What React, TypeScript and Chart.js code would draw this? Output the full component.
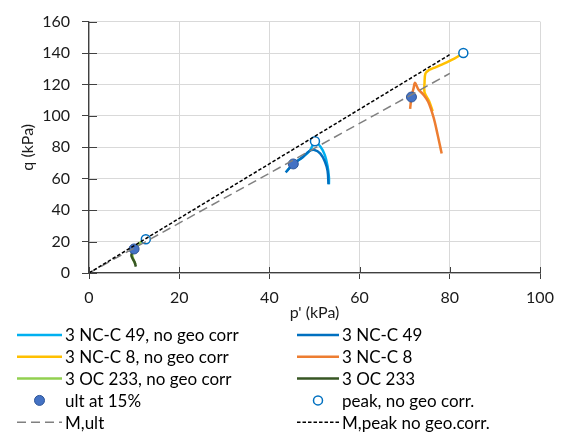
import React, { useEffect, useRef } from "react";
import { Chart, registerables } from "chart.js";

Chart.register(...registerables);

type Pt = [number, number];

const FONT = "Lato, 'Liberation Sans', sans-serif";
const AXIS = "#404040";
const GRID = "#d9d9d9";

// Axis ticks (kPa)
const xTickValues = [0, 20, 40, 60, 80, 100];
const yTickValues = [0, 20, 40, 60, 80, 100, 120, 140, 160];

// Stress paths: [p', q] in kPa
const nc49NoGeo: Pt[] = [
  [43.8, 64.7], [45.3, 69.4], [47.5, 74], [49, 78], [50.1, 83.5],
  [51.3, 80.5], [52.3, 75], [52.9, 68], [53.2, 61], [53.2, 56.5],
];
const nc49: Pt[] = [
  [43.6, 64], [45.3, 69.4], [47.5, 74], [48.8, 77.5], [50, 78.3],
  [51.3, 76], [52.3, 71], [52.9, 65], [53.1, 56.5],
];
const nc8NoGeo: Pt[] = [
  [83, 140], [81, 136.5], [78.2, 132.6], [76.5, 130.5], [75.4, 129.2],
  [74.6, 127], [74.4, 121], [74.4, 115], [75.4, 109.5], [76.2, 103],
];
const nc8: Pt[] = [
  [71.2, 104.5], [71.5, 112], [72, 118], [72.3, 121], [73, 117],
  [74, 114], [75.2, 109], [76.4, 99], [77.3, 88], [78.2, 76],
];
const oc233NoGeo: Pt[] = [
  [12.6, 21.5], [11.5, 19.5], [10.3, 16.5], [9.6, 12.5], [9.8, 9], [10.3, 5.5],
];
const oc233: Pt[] = [
  [10, 15.3], [9.4, 11.5], [9.6, 9.5], [10.1, 7], [10.4, 4],
];

// Marked states
const ultAt15: Pt[] = [[10, 15.3], [45.3, 69.4], [71.5, 112]];
const peakNoGeo: Pt[] = [[12.6, 21.5], [50.1, 83.8], [83, 140]];

// Failure lines
const mUlt: Pt[] = [[0, 0], [80, 127]];
const mPeak: Pt[] = [[0, 0], [80, 139]];

const toXY = (pts: Pt[]) => pts.map(([x, y]) => ({ x, y }));

const curve = (label: string, pts: Pt[], color: string, extra: any = {}) => ({
  label,
  data: toXY(pts),
  showLine: true,
  borderColor: color,
  backgroundColor: color,
  borderWidth: 2.5,
  pointRadius: 0,
  tension: 0.35,
  ...extra,
});

const twoColumnLegend = {
  id: "twoColumnLegend",
  afterDraw(chart: any) {
    const ctx: CanvasRenderingContext2D = chart.ctx;
    const sets = chart.data.datasets;
    ctx.save();
    ctx.font = `17px ${FONT}`;
    ctx.textBaseline = "middle";
    ctx.textAlign = "left";
    sets.forEach((d: any, i: number) => {
      const col = i % 2;
      const row = Math.floor(i / 2);
      const x0 = col ? 297 : 17;
      const x1 = col ? 339 : 62;
      const tx = col ? 342 : 65;
      const y = 335 + row * 21.8;
      if (d.showLine) {
        ctx.beginPath();
        ctx.strokeStyle = d.borderColor;
        ctx.lineWidth = d.borderWidth;
        ctx.setLineDash(d.borderDash || []);
        ctx.moveTo(x0, y);
        ctx.lineTo(x1, y);
        ctx.stroke();
        ctx.setLineDash([]);
      } else {
        ctx.beginPath();
        ctx.arc((x0 + x1) / 2, y, d.pointRadius, 0, Math.PI * 2);
        ctx.fillStyle = d.backgroundColor;
        ctx.fill();
        ctx.lineWidth = d.borderWidth;
        ctx.strokeStyle = d.borderColor;
        ctx.stroke();
      }
      ctx.fillStyle = "#000";
      ctx.fillText(d.label, tx, y + 1);
    });
    ctx.restore();
  },
};

// Tick marks that cross the axis lines into the plot area
const innerTicks = {
  id: "innerTicks",
  afterDraw(chart: any) {
    const { x, y } = chart.scales;
    const area = chart.chartArea;
    const ctx: CanvasRenderingContext2D = chart.ctx;
    ctx.save();
    ctx.strokeStyle = AXIS;
    ctx.lineWidth = 1;
    x.ticks.forEach((t: any) => {
      const px = Math.round(x.getPixelForValue(t.value)) + 0.5;
      ctx.beginPath();
      ctx.moveTo(px, area.bottom);
      ctx.lineTo(px, area.bottom - 6);
      ctx.stroke();
    });
    y.ticks.forEach((t: any) => {
      const py = Math.round(y.getPixelForValue(t.value)) + 0.5;
      ctx.beginPath();
      ctx.moveTo(area.left, py);
      ctx.lineTo(area.left + 8, py);
      ctx.stroke();
    });
    ctx.restore();
  },
};

export default function App() {
  const ref = useRef<HTMLCanvasElement | null>(null);

  useEffect(() => {
    document.body.style.margin = "0";
    const canvas = ref.current;
    if (!canvas) return;

    const datasets: any[] = [
      curve("3 NC-C 49, no geo corr", nc49NoGeo, "#00B0F0"),
      curve("3 NC-C 49", nc49, "#0070C0"),
      curve("3 NC-C 8, no geo corr", nc8NoGeo, "#FFC000"),
      curve("3 NC-C 8", nc8, "#ED7D31"),
      curve("3 OC 233, no geo corr", oc233NoGeo, "#92D050"),
      curve("3 OC 233", oc233, "#375623"),
      {
        label: "ult at 15%",
        data: toXY(ultAt15),
        showLine: false,
        pointRadius: 5,
        pointHoverRadius: 5,
        borderWidth: 1,
        backgroundColor: "#4472C4",
        borderColor: "#2F5597",
      },
      {
        label: "peak, no geo corr.",
        data: toXY(peakNoGeo),
        showLine: false,
        pointRadius: 4.5,
        pointHoverRadius: 4.5,
        borderWidth: 1.5,
        backgroundColor: "#ffffff",
        borderColor: "#0070C0",
      },
      curve("M,ult", mUlt, "#808080", { borderWidth: 1.5, borderDash: [9, 5], tension: 0 }),
      curve("M,peak no geo.corr.", mPeak, "#000000", { borderWidth: 1.5, borderDash: [3.5, 2], tension: 0 }),
    ];
    const n = datasets.length;
    datasets.forEach((d, i) => (d.order = n - i));

    const chart = new Chart(canvas, {
      type: "scatter",
      data: { datasets },
      options: {
        animation: false,
        responsive: false,
        devicePixelRatio: 1,
        layout: { padding: { left: 0, right: 23, top: 14, bottom: 111 } },
        plugins: {
          legend: { display: false },
          tooltip: { enabled: false },
        },
        scales: {
          x: {
            type: "linear",
            min: 0,
            max: 100,
            afterBuildTicks: (s: any) => {
              s.ticks = xTickValues.map((v) => ({ value: v }));
            },
            afterFit: (s: any) => {
              s.height = 50;
            },
            grid: { color: GRID, lineWidth: 1, tickLength: 6, tickColor: AXIS, drawTicks: true },
            border: { display: true, color: AXIS, width: 1.3 },
            ticks: {
              padding: 9,
              color: "#1a1a1a",
              font: { family: FONT, size: 16 },
            },
            title: {
              display: true,
              text: "p' (kPa)",
              color: "#1a1a1a",
              font: { family: FONT, size: 16 },
              padding: { top: 0, bottom: 1 },
            },
          },
          y: {
            type: "linear",
            min: 0,
            max: 160,
            afterBuildTicks: (s: any) => {
              s.ticks = yTickValues.map((v) => ({ value: v }));
            },
            afterFit: (s: any) => {
              s.width = 89;
            },
            grid: { color: GRID, lineWidth: 1, tickLength: 7, tickColor: AXIS, drawTicks: true },
            border: { display: true, color: AXIS, width: 1.3 },
            ticks: {
              padding: 12,
              color: "#1a1a1a",
              font: { family: FONT, size: 16 },
            },
            title: {
              display: true,
              text: "q (kPa)",
              color: "#1a1a1a",
              font: { family: FONT, size: 16 },
              padding: { top: 18, bottom: 0 },
            },
          },
        },
      },
      plugins: [innerTicks, twoColumnLegend],
    });

    return () => chart.destroy();
  }, []);

  return <canvas ref={ref} width={563} height={434} style={{ display: "block" }} />;
}
